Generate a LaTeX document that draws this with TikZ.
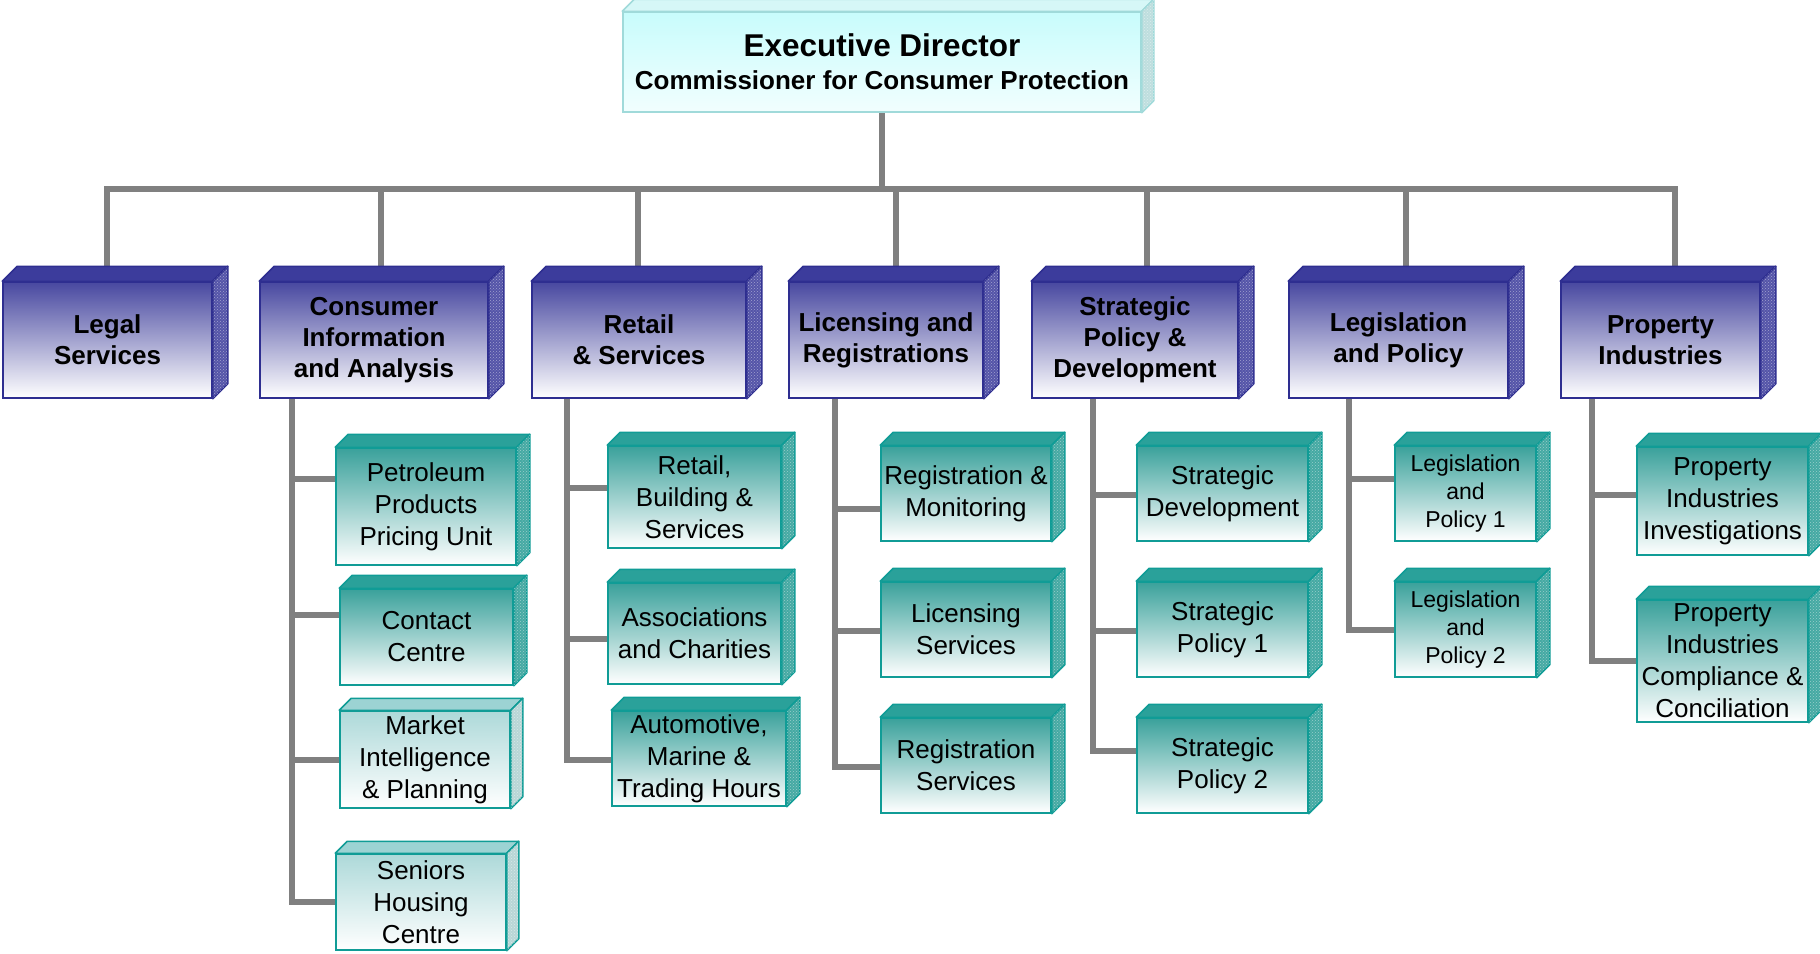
\documentclass[tikz,border=0pt]{standalone}
\usepackage{fontspec}
\setmainfont{Liberation Sans}
\usetikzlibrary{patterns}
\pgfdeclarelayer{bg}
\pgfsetlayers{bg,main}
\definecolor{bluetop}{HTML}{4848A0}
\definecolor{bluetopface}{HTML}{3C3C9C}
\definecolor{blueside}{HTML}{5454A8}
\definecolor{blueline}{HTML}{2E2E90}
\definecolor{tealtop}{HTML}{3AA19B}
\definecolor{tealtopface}{HTML}{2AA19A}
\definecolor{tealside}{HTML}{45A9A3}
\definecolor{tealline}{HTML}{109C96}
\definecolor{ltealtop}{HTML}{ADD9D9}
\definecolor{ltealtopface}{HTML}{9CD3D3}
\definecolor{ltealside}{HTML}{B8D6D6}
\definecolor{execfill}{HTML}{C8FCFC}
\definecolor{exectopface}{HTML}{D6F7F7}
\definecolor{execside}{HTML}{BEDEDE}
\definecolor{execline}{HTML}{A0DADA}
\definecolor{connc}{HTML}{808080}
\newcommand\faces[5]{%
  \filldraw[fill=#3,draw=#5,line width=1.5pt,line join=round]
    (#1.north west) -- ++(#2pt,#2pt) -- ([shift={(#2pt,#2pt)}]#1.north east) -- (#1.north east) -- cycle;
  \filldraw[fill=#4,draw=#5,line width=1.5pt,line join=round]
    (#1.north east) -- ++(#2pt,#2pt) -- ([shift={(#2pt,#2pt)}]#1.south east) -- (#1.south east) -- cycle;
  \fill[pattern=crosshatch dots,pattern color=white,opacity=0.45]
    (#1.north east) -- ++(#2pt,#2pt) -- ([shift={(#2pt,#2pt)}]#1.south east) -- (#1.south east) -- cycle;
}
\begin{document}
\begin{tikzpicture}[x=1pt,y=-1pt,
  conn/.style={draw=connc,line width=6pt,line join=miter},
  lvone/.style={draw=blueline,line width=1.5pt,top color=bluetop,bottom color=white,
    minimum height=116pt,inner sep=0pt,align=center,font=\fontsize{26}{31}\selectfont\bfseries},
  lvtwo/.style={draw=tealline,line width=1.5pt,top color=tealtop,bottom color=white,
    inner sep=0pt,align=center,font=\fontsize{26}{32}\selectfont},
  ltwo/.style={lvtwo,top color=ltealtop},
  lp/.style={lvtwo,font=\fontsize{23}{28}\selectfont},
  exec/.style={draw=execline,line width=1.5pt,top color=execfill,bottom color=execfill!25!white,
    inner sep=0pt,align=center,font=\fontsize{26}{33}\selectfont\bfseries}]
\useasboundingbox (0,0) rectangle (1820,953);
\begin{pgfonlayer}{bg}
\fill[white] (0,0) rectangle (1820,953);
\end{pgfonlayer}

% top
\node[exec,minimum width=518pt,minimum height=100pt] (exec) at (882,62)
  {{\fontsize{31.5}{33}\selectfont Executive Director}\\Commissioner for Consumer Protection};
\faces{exec}{12}{exectopface}{execside}{execline}

% level one
\node[lvone,minimum width=209pt] (legal) at (107.5,340) {Legal\\Services};
\node[lvone,minimum width=228pt] (cons) at (374,340) {Consumer\\Information\\and Analysis};
\node[lvone,minimum width=214pt] (retail) at (639,340) {Retail\\\& Services};
\node[lvone,minimum width=194pt] (lic) at (886,340) {Licensing and\\Registrations};
\node[lvone,minimum width=206pt] (strat) at (1135,340) {Strategic\\Policy \&\\Development};
\node[lvone,minimum width=219pt] (legis) at (1398.5,340) {Legislation\\and Policy};
\node[lvone,minimum width=199pt] (prop) at (1660.5,340) {Property\\Industries};
\foreach \n in {legal,cons,retail,lic,strat,legis,prop}{\faces{\n}{15}{bluetopface}{blueside}{blueline}}

% consumer
\node[lvtwo,minimum width=180pt,minimum height=117pt] (petro) at (426,506.5) {Petroleum\\Products\\Pricing Unit};
\node[lvtwo,minimum width=173pt,minimum height=96pt] (contact) at (426.5,637) {Contact\\Centre};
\node[ltwo,minimum width=170pt,minimum height=97pt] (market) at (425,759.5) {Market\\Intelligence\\\& Planning};
\node[ltwo,minimum width=170pt,minimum height=96pt] (seniors) at (421,902) {Seniors\\Housing\\Centre};
% retail
\node[lvtwo,minimum width=173pt,minimum height=102pt] (rbs) at (694.5,497) {Retail,\\Building \&\\Services};
\node[lvtwo,minimum width=173pt,minimum height=101pt] (assoc) at (694.5,633.5) {Associations\\and Charities};
\node[lvtwo,minimum width=174pt,minimum height=95pt] (auto) at (699,758.5) {Automotive,\\Marine \&\\Trading Hours};
% licensing
\node[lvtwo,minimum width=170pt,minimum height=95pt] (regmon) at (966,493.5) {Registration \&\\Monitoring};
\node[lvtwo,minimum width=170pt,minimum height=95pt] (licserv) at (966,629.5) {Licensing\\Services};
\node[lvtwo,minimum width=170pt,minimum height=95pt] (regserv) at (966,765.5) {Registration\\Services};
% strategic
\node[lvtwo,minimum width=171pt,minimum height=95pt] (sdev) at (1222.5,493.5) {Strategic\\Development};
\node[lvtwo,minimum width=171pt,minimum height=95pt] (sp1) at (1222.5,629.5) {Strategic\\Policy 1};
\node[lvtwo,minimum width=171pt,minimum height=95pt] (sp2) at (1222.5,765.5) {Strategic\\Policy 2};
% legislation
\node[lp,minimum width=141pt,minimum height=95pt] (lp1) at (1465.5,493.5) {Legislation\\and\\Policy 1};
\node[lp,minimum width=141pt,minimum height=95pt] (lp2) at (1465.5,629.5) {Legislation\\and\\Policy 2};
% property
\node[lvtwo,minimum width=171pt,minimum height=108pt] (pii) at (1722.5,501) {Property\\Industries\\Investigations};
\node[lvtwo,minimum width=171pt,minimum height=122pt] (picc) at (1722.5,661) {Property\\Industries\\Compliance \&\\Conciliation};

\foreach \n in {petro,contact,rbs,assoc,auto,regmon,licserv,regserv,sdev,sp1,sp2,lp1,lp2,pii,picc}
  {\faces{\n}{13}{tealtopface}{tealside}{tealline}}
\foreach \n in {market,seniors}{\faces{\n}{12}{ltealtopface}{ltealside}{tealline}}

\coordinate (hub) at (882,189);
\begin{pgfonlayer}{bg}
\draw[conn] (exec.south) -- (hub);
\draw[conn] ([xshift=-0.5pt]legal.north) |- (hub);
\draw[conn] ([xshift=7pt]cons.north) |- (hub);
\draw[conn] ([xshift=-1pt]retail.north) |- (hub);
\draw[conn] ([xshift=10pt]lic.north) |- (hub);
\draw[conn] ([xshift=12pt]strat.north) |- (hub);
\draw[conn] ([xshift=7.5pt]legis.north) |- (hub);
\draw[conn] ([xshift=14.5pt]prop.north) |- (hub);

\draw[conn] ([xshift=-82pt]cons.south) |- ([yshift=27.5pt]petro.west);
\draw[conn] ([xshift=-82pt]cons.south) |- ([yshift=22pt]contact.west);
\draw[conn] ([xshift=-82pt]cons.south) |- (market.west);
\draw[conn] ([xshift=-82pt]cons.south) |- (seniors.west);

\draw[conn] ([xshift=-72pt]retail.south) |- ([yshift=9pt]rbs.west);
\draw[conn] ([xshift=-72pt]retail.south) |- ([yshift=-5.5pt]assoc.west);
\draw[conn] ([xshift=-72pt]retail.south) |- ([yshift=-1.5pt]auto.west);

\draw[conn] ([xshift=-51pt]lic.south) |- ([yshift=-15.5pt]regmon.west);
\draw[conn] ([xshift=-51pt]lic.south) |- ([yshift=-1.5pt]licserv.west);
\draw[conn] ([xshift=-51pt]lic.south) |- ([yshift=-1.5pt]regserv.west);

\draw[conn] ([xshift=-42pt]strat.south) |- ([yshift=-1.5pt]sdev.west);
\draw[conn] ([xshift=-42pt]strat.south) |- ([yshift=-1.5pt]sp1.west);
\draw[conn] ([xshift=-42pt]strat.south) |- ([yshift=14.5pt]sp2.west);

\draw[conn] ([xshift=-49.5pt]legis.south) |- ([yshift=14.5pt]lp1.west);
\draw[conn] ([xshift=-49.5pt]legis.south) |- (lp2.west);

\draw[conn] ([xshift=-68.5pt]prop.south) |- ([yshift=6pt]pii.west);
\draw[conn] ([xshift=-68.5pt]prop.south) |- (picc.west);
\end{pgfonlayer}
\end{tikzpicture}
\end{document}
